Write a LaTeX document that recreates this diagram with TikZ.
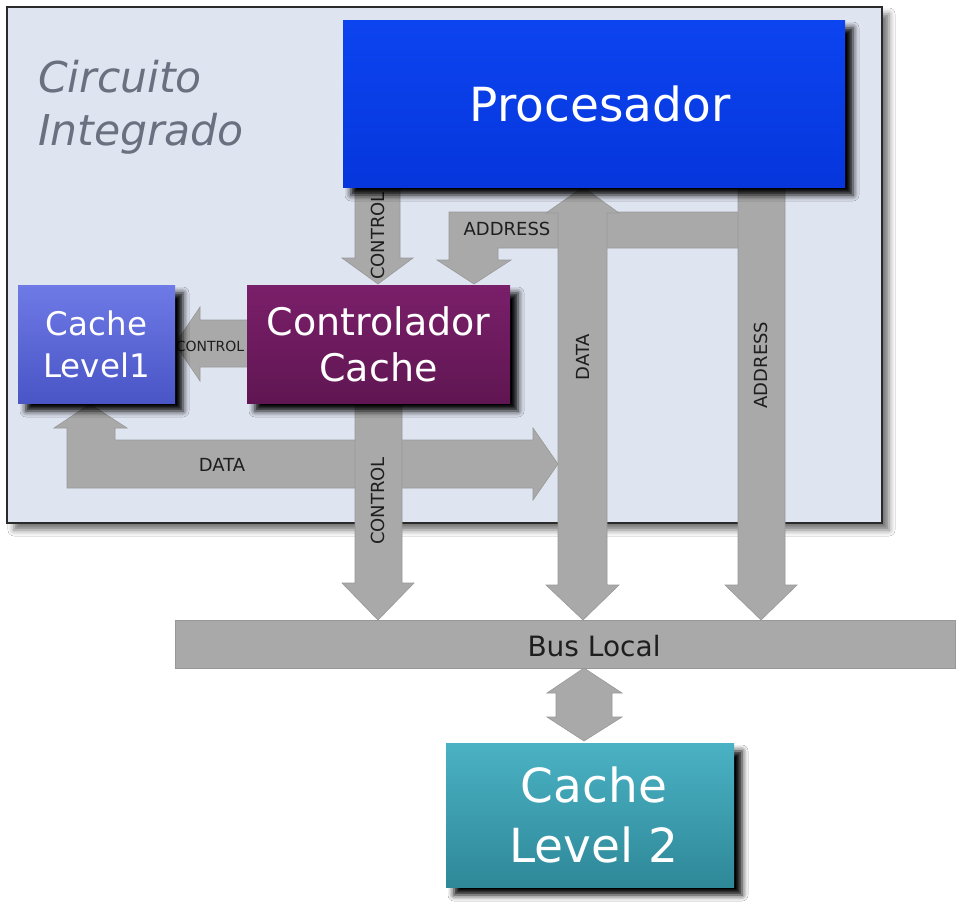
\documentclass[tikz,border=0pt]{standalone}
\usepackage{fontspec}
\setmainfont{DejaVu Sans}
\usetikzlibrary{shadows.blur}
\definecolor{icfill}{HTML}{DFE4F1}
\definecolor{icdraw}{HTML}{2A2A2A}
\definecolor{arrowfill}{HTML}{A9A9A9}
\definecolor{arrowdraw}{HTML}{989898}
\definecolor{procA}{HTML}{0C44F0}
\definecolor{procB}{HTML}{0636DC}
\definecolor{ccA}{HTML}{7A1F6A}
\definecolor{ccB}{HTML}{601652}
\definecolor{clA}{HTML}{6E7AE6}
\definecolor{clB}{HTML}{4A55C6}
\definecolor{ctA}{HTML}{4AB2C4}
\definecolor{ctB}{HTML}{2E8898}
\definecolor{icText}{HTML}{6B7080}
\definecolor{lbl}{HTML}{1E1E1E}
\tikzset{
  boxnode/.style={anchor=north west, inner sep=0pt, outer sep=0pt, text=white, align=center,
    blur shadow={shadow xshift=8pt, shadow yshift=-8pt, shadow blur radius=6pt, shadow opacity=100}},
  bigarrow/.style={fill=arrowfill, draw=arrowdraw, line width=0.6pt, line join=miter},
  arrowlabel/.style={text=lbl, inner sep=0pt, font=\fontsize{18}{20}\selectfont},
}
\begin{document}
\begin{tikzpicture}[x=1pt,y=-1pt]
\useasboundingbox (0,0) rectangle (965,903);
\fill[white] (0,0) rectangle (965,903);

% Integrated circuit frame
\node[anchor=north west, inner sep=0pt, outer sep=0pt, fill=icfill, draw=icdraw, line width=1.3pt,
  minimum width=875pt, minimum height=516pt,
  blur shadow={shadow xshift=7pt, shadow yshift=-7pt, shadow blur radius=6pt, shadow opacity=55}] (ic) at (7,7) {};
\node[anchor=west, inner sep=0pt, text=icText, align=left, font=\itshape\fontsize{42.5}{53}\selectfont] (ictitle) at (38,107) {Circuito\\Integrado};

% DATA L-shaped arrow (Cache L1 <-> DATA bus)
\draw[bigarrow] (67,488) -- (67,428) -- (54,428) -- (90,404) -- (127,428) -- (115,428) -- (115,440)
  -- (533,440) -- (533,428) -- (558,464) -- (533,500) -- (533,488) -- cycle;
\node[arrowlabel] (ldata) at (222,465) {DATA};

% CONTROL down to bus
\draw[bigarrow] (355,403) -- (402,403) -- (402,583) -- (414,583) -- (378,620) -- (342,583) -- (355,583) -- cycle;
\node[arrowlabel, rotate=90] (lctrl2) at (378,501) {CONTROL};

% ADDRESS branch to controller
\draw[bigarrow] (740,212) -- (740,248) -- (498,248) -- (498,260) -- (511,260) -- (474,284) -- (437,260) -- (449,260) -- (449,212) -- cycle;
\node[arrowlabel] (laddr1) at (507,229) {ADDRESS};

% ADDRESS vertical to bus
\draw[bigarrow] (738,185) -- (785,185) -- (785,585) -- (797,585) -- (761,620) -- (725,585) -- (738,585) -- cycle;
\node[arrowlabel, rotate=90] (laddr2) at (761,365) {ADDRESS};

% DATA vertical double arrow
\draw[bigarrow] (583,187) -- (619,213) -- (607,213) -- (607,585) -- (619,585) -- (583,620) -- (546,585) -- (558,585) -- (558,213) -- (546,213) -- cycle;
\node[arrowlabel, rotate=90] (ldata2) at (583,357) {DATA};

% CONTROL from processor to controller
\draw[bigarrow] (355,185) -- (400,185) -- (400,258) -- (413,258) -- (378,284) -- (342,258) -- (355,258) -- cycle;
\node[arrowlabel, rotate=90] (lctrl1) at (378,236) {CONTROL};

% CONTROL from controller to cache L1
\draw[bigarrow] (249,320) -- (249,367) -- (200,367) -- (200,381) -- (175,344) -- (200,307) -- (200,320) -- cycle;
\node[arrowlabel, font=\fontsize{14}{16}\selectfont] (lctrl3) at (210,346) {CONTROL};

% Bus <-> Cache L2
\draw[bigarrow] (584,668) -- (622,693) -- (612,693) -- (612,717) -- (622,717) -- (584,741) -- (547,717) -- (556,717) -- (556,693) -- (547,693) -- cycle;

% Bus Local
\node[anchor=north west, inner sep=0pt, outer sep=0pt, fill=arrowfill, draw=arrowdraw, line width=0.6pt,
  minimum width=780pt, minimum height=48pt] (bus) at (175,620) {};
\node[inner sep=0pt, font=\fontsize{28}{30}\selectfont, text=lbl] (buslbl) at (594,646) {Bus Local};

% Boxes
\node[boxnode, top color=procA, bottom color=procB, minimum width=502pt, minimum height=167pt,
  font=\fontsize{47}{56}\selectfont] (proc) at (343,20) {\hspace*{12pt}Procesador\raisebox{0pt}[0pt][0pt]{}\vphantom{\rule{0pt}{10pt}}};
\node[boxnode, top color=ccA, bottom color=ccB, minimum width=263pt, minimum height=118pt,
  font=\fontsize{38}{46}\selectfont] (cc) at (247,285) {Controlador\\Cache};
\node[boxnode, top color=clA, bottom color=clB, minimum width=157pt, minimum height=118pt,
  font=\fontsize{32.5}{42}\selectfont] (cl1) at (18,285) {Cache\\Level1};
\node[boxnode, top color=ctA, bottom color=ctB, minimum width=288pt, minimum height=144pt,
  font=\fontsize{47}{60}\selectfont] (cl2) at (446,743) {\hspace*{8pt}Cache\\\hspace*{8pt}Level 2};
\end{tikzpicture}
\end{document}
